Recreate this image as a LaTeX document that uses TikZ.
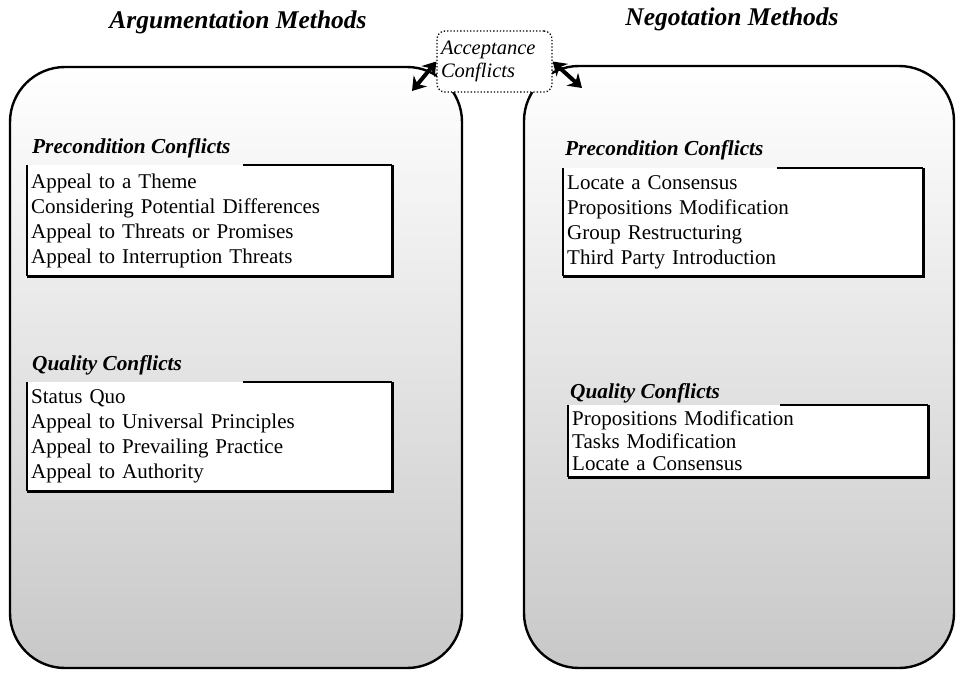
\documentclass[tikz,border=0pt]{standalone}
\usepackage{fontspec}
\setmainfont{Liberation Serif}
\usetikzlibrary{arrows.meta, positioning}
\definecolor{panelgray}{RGB}{200, 200, 200}
\tikzset{
  panel/.style={draw, line width=2.4pt, rounded corners=55pt, top color=white, bottom color=panelgray},
  methodtitle/.style={font=\fontsize{25.5}{28}\selectfont\bfseries\itshape, anchor=base},
  conflicthead/.style={font=\fontsize{21.3}{24}\selectfont\bfseries\itshape, anchor=base west, inner sep=0pt},
  listbox/.style={fill=white, anchor=north west, align=left, inner xsep=4pt, inner ysep=0pt, font=\fontsize{21}{25}\selectfont},
  accbox/.style={draw, dotted, line width=1.3pt, rounded corners=8pt, fill=white, align=left, inner xsep=4pt, text width=107pt, minimum height=61pt, font=\fontsize{20.5}{23}\selectfont\itshape},
  accarrow/.style={{Stealth[length=13pt, width=17pt]}-{Stealth[length=13pt, width=17pt]}, line width=4pt},
}
\begin{document}
\begin{tikzpicture}[x=1pt, y=-1pt]
  \useasboundingbox (0,0) rectangle (961,672);

  % Panels
  \node[panel, minimum width=452pt, minimum height=601pt] (argpanel) at (236, 367.5) {};
  \node[panel, minimum width=430pt, minimum height=602pt] (negpanel) at (739, 367) {};
  \node[methodtitle] (argtitle) at (238, 28) {Argumentation Methods};
  \node[methodtitle] (negtitle) at (732, 25) {Negotation Methods};

  % Acceptance conflicts
  \node[accbox] (acc) at (494.5, 61.5) {Acceptance\\Conflicts};
  \coordinate (argend) at (412, 91);
  \coordinate (negend) at (582, 88);
  \draw[accarrow] (argend) -- (acc.west);
  \draw[accarrow] (acc.east) -- (negend);

  % Argumentation: precondition conflicts
  \node[conflicthead] (argprehead) at (32, 153) {Precondition Conflicts};
  \node[listbox, text width=357pt, minimum height=111pt] (argpre) at (27, 165)
    {Appeal to a Theme\\Considering Potential Differences\\Appeal to Threats or Promises\\Appeal to Interruption Threats};
  \draw[line width=1.2pt] (argpre.north west) -- (argpre.south west);
  \draw[line width=2pt] ([xshift=216pt]argpre.north west) -- (argpre.north east);
  \draw[line width=3pt] (argpre.north east) -- (argpre.south east) -- (argpre.south west);

  % Argumentation: quality conflicts
  \node[conflicthead] (argqualhead) at (32, 370) {Quality Conflicts};
  \node[listbox, text width=357pt, minimum height=109pt] (argqual) at (27, 382)
    {Status Quo\\Appeal to Universal Principles\\Appeal to Prevailing Practice\\Appeal to Authority};
  \draw[line width=1.2pt] (argqual.north west) -- (argqual.south west);
  \draw[line width=2pt] ([xshift=216pt]argqual.north west) -- (argqual.north east);
  \draw[line width=3pt] (argqual.north east) -- (argqual.south east) -- (argqual.south west);

  % Negotation: precondition conflicts
  \node[conflicthead] (negprehead) at (565, 155) {Precondition Conflicts};
  \node[listbox, text width=352pt, minimum height=108pt] (negpre) at (563, 168)
    {Locate a Consensus\\Propositions Modification\\Group Restructuring\\Third Party Introduction};
  \draw[line width=1.2pt] (negpre.north west) -- (negpre.south west);
  \draw[line width=2pt] ([xshift=214pt]negpre.north west) -- (negpre.north east);
  \draw[line width=3pt] (negpre.north east) -- (negpre.south east) -- (negpre.south west);

  % Negotation: quality conflicts
  \node[conflicthead] (negqualhead) at (570, 398) {Quality Conflicts};
  \node[listbox, text width=352pt, minimum height=72pt, font=\fontsize{21}{22.5}\selectfont] (negqual) at (568, 405)
    {Propositions Modification\\Tasks Modification\\Locate a Consensus};
  \draw[line width=1.2pt] (negqual.north west) -- (negqual.south west);
  \draw[line width=2pt] ([xshift=212pt]negqual.north west) -- (negqual.north east);
  \draw[line width=3pt] (negqual.north east) -- (negqual.south east) -- (negqual.south west);
\end{tikzpicture}
\end{document}
